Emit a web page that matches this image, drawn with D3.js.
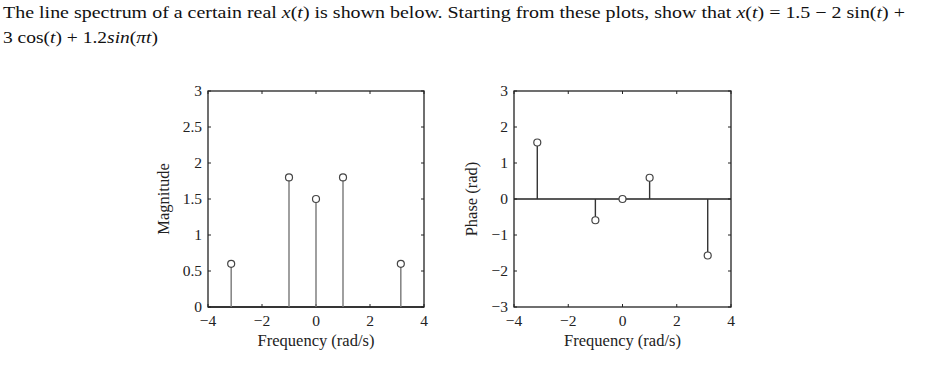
<!DOCTYPE html>
<html><head><meta charset="utf-8">
<script src="https://cdn.jsdelivr.net/npm/d3@7"></script>
<style>body{margin:0;background:#fff}svg{display:block}</style>
</head><body>
<script>
const freqs = [-Math.PI, -1, 0, 1, Math.PI];
const magnitude = [0.6, 1.8, 1.5, 1.8, 0.6];
const phase = [1.57, -0.59, 0, 0.59, -1.57];
const xTicks = [-4, -2, 0, 2, 4];
const magTicks = [0, 0.5, 1, 1.5, 2, 2.5, 3];
const phaseTicks = [-3, -2, -1, 0, 1, 2, 3];

const W = 926, H = 368;
const svg = d3.select("body").append("svg").attr("width", W).attr("height", H);

// Title
const serif = "'Liberation Serif', 'DejaVu Serif', serif";
const t1 = svg.append("text").attr("x", 3).attr("y", 18).attr("font-family", serif).attr("font-size", 16.5)
  .attr("fill", "#111").attr("textLength", 902).attr("lengthAdjust", "spacingAndGlyphs");
t1.append("tspan").text("The line spectrum of a certain real ");
t1.append("tspan").attr("font-style", "italic").text("x");
t1.append("tspan").text("(");
t1.append("tspan").attr("font-style", "italic").text("t");
t1.append("tspan").text(") is shown below. Starting from these plots, show that ");
t1.append("tspan").attr("font-style", "italic").text("x");
t1.append("tspan").text("(");
t1.append("tspan").attr("font-style", "italic").text("t");
t1.append("tspan").text(") = 1.5 \u2212 2 sin(");
t1.append("tspan").attr("font-style", "italic").text("t");
t1.append("tspan").text(") +");
const t2 = svg.append("text").attr("x", 3).attr("y", 42.5).attr("font-family", serif).attr("font-size", 16.5)
  .attr("fill", "#111").attr("textLength", 155).attr("lengthAdjust", "spacingAndGlyphs");
t2.append("tspan").text("3 cos(");
t2.append("tspan").attr("font-style", "italic").text("t");
t2.append("tspan").text(") + 1.2");
t2.append("tspan").attr("font-style", "italic").text("sin");
t2.append("tspan").text("(");
t2.append("tspan").attr("font-style", "italic").text("\u03C0t");
t2.append("tspan").text(")");

function fmt(v) { return String(v).replace("-", "\u2212"); }

function panel(opts) {
  const x = d3.scaleLinear().domain([-4, 4]).range([opts.x0, opts.x1]);
  const y = d3.scaleLinear().domain(opts.yDomain).range([307, 91]);
  const g = svg.append("g");
  const axisColor = "#222";
  const textColor = "#222";
  const tk = 3;
  // frame
  g.append("rect").attr("x", x(-4)).attr("y", y(opts.yDomain[1])).attr("width", x(4) - x(-4))
    .attr("height", y(opts.yDomain[0]) - y(opts.yDomain[1])).attr("fill", "none")
    .attr("stroke", axisColor).attr("stroke-width", 1.3);
  // ticks
  xTicks.forEach(v => {
    g.append("line").attr("x1", x(v)).attr("x2", x(v)).attr("y1", y.range()[0]).attr("y2", y.range()[0] - tk).attr("stroke", axisColor);
    g.append("line").attr("x1", x(v)).attr("x2", x(v)).attr("y1", y.range()[1]).attr("y2", y.range()[1] + tk).attr("stroke", axisColor);
    g.append("text").attr("x", x(v)).attr("y", 326).attr("text-anchor", "middle")
      .attr("font-family", serif).attr("font-size", 15.5).attr("fill", textColor).text(fmt(v));
  });
  opts.yTicks.forEach(v => {
    g.append("line").attr("x1", x(-4)).attr("x2", x(-4) + tk).attr("y1", y(v)).attr("y2", y(v)).attr("stroke", axisColor);
    g.append("line").attr("x1", x(4)).attr("x2", x(4) - tk).attr("y1", y(v)).attr("y2", y(v)).attr("stroke", axisColor);
    g.append("text").attr("x", x(-4) - 6).attr("y", y(v) + 5.3).attr("text-anchor", "end")
      .attr("font-family", serif).attr("font-size", 15.5).attr("fill", textColor).text(fmt(v));
  });
  // baseline
  g.append("line").attr("x1", x(-4)).attr("x2", x(4)).attr("y1", y(0)).attr("y2", y(0))
    .attr("stroke", axisColor).attr("stroke-width", 1.3);
  // stems
  g.selectAll(".stem").data(freqs.map((f, i) => [f, opts.values[i]])).enter().append("line")
    .attr("x1", d => x(d[0])).attr("x2", d => x(d[0])).attr("y1", y(0)).attr("y2", d => y(d[1]))
    .attr("stroke", opts.stemColor).attr("stroke-width", 1.4);
  g.selectAll(".mk").data(freqs.map((f, i) => [f, opts.values[i]])).enter().append("circle")
    .attr("cx", d => x(d[0])).attr("cy", d => y(d[1])).attr("r", 3.5)
    .attr("fill", "#fff").attr("stroke", "#444").attr("stroke-width", 1.2);
  // labels
  g.append("text").attr("x", (opts.x0 + opts.x1) / 2).attr("y", 346).attr("text-anchor", "middle")
    .attr("font-family", serif).attr("font-size", 16.5).attr("fill", textColor).text("Frequency (rad/s)");
  g.append("text").attr("transform", `translate(${opts.labelX},199) rotate(-90)`).attr("text-anchor", "middle")
    .attr("font-family", serif).attr("font-size", 16.5).attr("fill", textColor).text(opts.yLabel);
}

panel({x0: 208, x1: 424, yDomain: [0, 3], yTicks: magTicks, values: magnitude, stemColor: "#777", yLabel: "Magnitude", labelX: 169});
panel({x0: 514, x1: 731, yDomain: [-3, 3], yTicks: phaseTicks, values: phase, stemColor: "#333", yLabel: "Phase (rad)", labelX: 477});
</script>
</body></html>
